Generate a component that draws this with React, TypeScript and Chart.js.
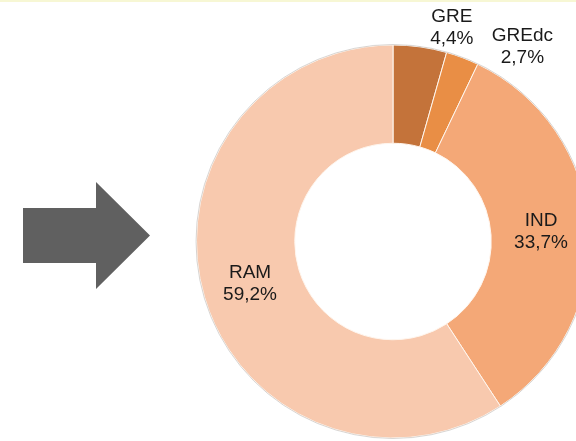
import { useEffect, useRef } from 'react';
import { Chart, registerables } from 'chart.js';

Chart.register(...registerables);

// ---- data ----
const categories = ['GRE', 'GREdc', 'IND', 'RAM'];
const shares = [4.4, 2.7, 33.7, 59.2];
const shareLabels = ['4,4%', '2,7%', '33,7%', '59,2%'];
const sliceColors = ['#C4733A', '#E98E45', '#F4A877', '#F8C9AE'];

// label placement (angle from 12 o'clock in degrees, radius as fraction of outer radius)
const labelAngles = [15.4, 33.6, null, null];
const labelRadii = [1.127, 1.19, 0.755, 0.759];

export default function App() {
  const ref = useRef<HTMLCanvasElement>(null);

  useEffect(() => {
    document.body.style.margin = '0';
    const canvas = ref.current!;

    const decor = {
      id: 'decor',
      beforeDraw(chart: any) {
        const ctx = chart.ctx;
        ctx.save();
        ctx.fillStyle = '#ffffff';
        ctx.fillRect(0, 0, chart.width, chart.height);
        ctx.fillStyle = '#F7F7D4';
        ctx.fillRect(0, 0, chart.width, 2);
        // arrow
        ctx.fillStyle = '#606060';
        ctx.beginPath();
        ctx.moveTo(23, 208);
        ctx.lineTo(96, 208);
        ctx.lineTo(96, 182);
        ctx.lineTo(150, 235.5);
        ctx.lineTo(96, 289);
        ctx.lineTo(96, 263);
        ctx.lineTo(23, 263);
        ctx.closePath();
        ctx.fill();
        ctx.restore();
      },
    };

    const labels = {
      id: 'sliceLabels',
      afterDatasetsDraw(chart: any) {
        const ctx = chart.ctx;
        const meta = chart.getDatasetMeta(0);
        ctx.save();
        // faint outer edge
        const a0 = meta.data[0];
        ctx.beginPath();
        ctx.arc(a0.x, a0.y, a0.outerRadius + 0.5, 0, Math.PI * 2);
        ctx.strokeStyle = 'rgba(170,170,170,0.45)';
        ctx.lineWidth = 1;
        ctx.stroke();

        ctx.fillStyle = '#1a1a1a';
        ctx.font = '19px "Liberation Sans", Arial, sans-serif';
        ctx.textAlign = 'center';
        ctx.textBaseline = 'middle';
        meta.data.forEach((arc: any, i: number) => {
          const mid = (arc.startAngle + arc.endAngle) / 2 + Math.PI / 2; // from top
          const theta = labelAngles[i] != null ? (labelAngles[i] as number) * Math.PI / 180 : mid;
          const r = arc.outerRadius * labelRadii[i];
          const x = arc.x + r * Math.sin(theta);
          const y = arc.y - r * Math.cos(theta);
          ctx.fillText(categories[i], x, y - 11);
          ctx.fillText(shareLabels[i], x, y + 11);
        });
        ctx.restore();
      },
    };

    const chart = new Chart(canvas, {
      type: 'doughnut',
      data: {
        labels: categories,
        datasets: [
          {
            data: shares,
            backgroundColor: sliceColors,
            borderColor: '#FFF6EE',
            borderWidth: 1,
          },
        ],
      },
      options: {
        responsive: false,
        animation: false,
        devicePixelRatio: 1,
        cutout: '50%',
        layout: { padding: { left: 196, top: 44.5, right: 10, bottom: 2.5 } },
        plugins: { legend: { display: false }, tooltip: { enabled: false } },
      },
      plugins: [decor, labels],
    });
    return () => chart.destroy();
  }, []);

  return (
    <div style={{ position: 'fixed', left: 0, top: 0, width: 576, height: 441, overflow: 'hidden', background: '#fff' }}>
      <canvas ref={ref} width={600} height={441} style={{ position: 'absolute', left: 0, top: 0, width: 600, height: 441 }} />
    </div>
  );
}
